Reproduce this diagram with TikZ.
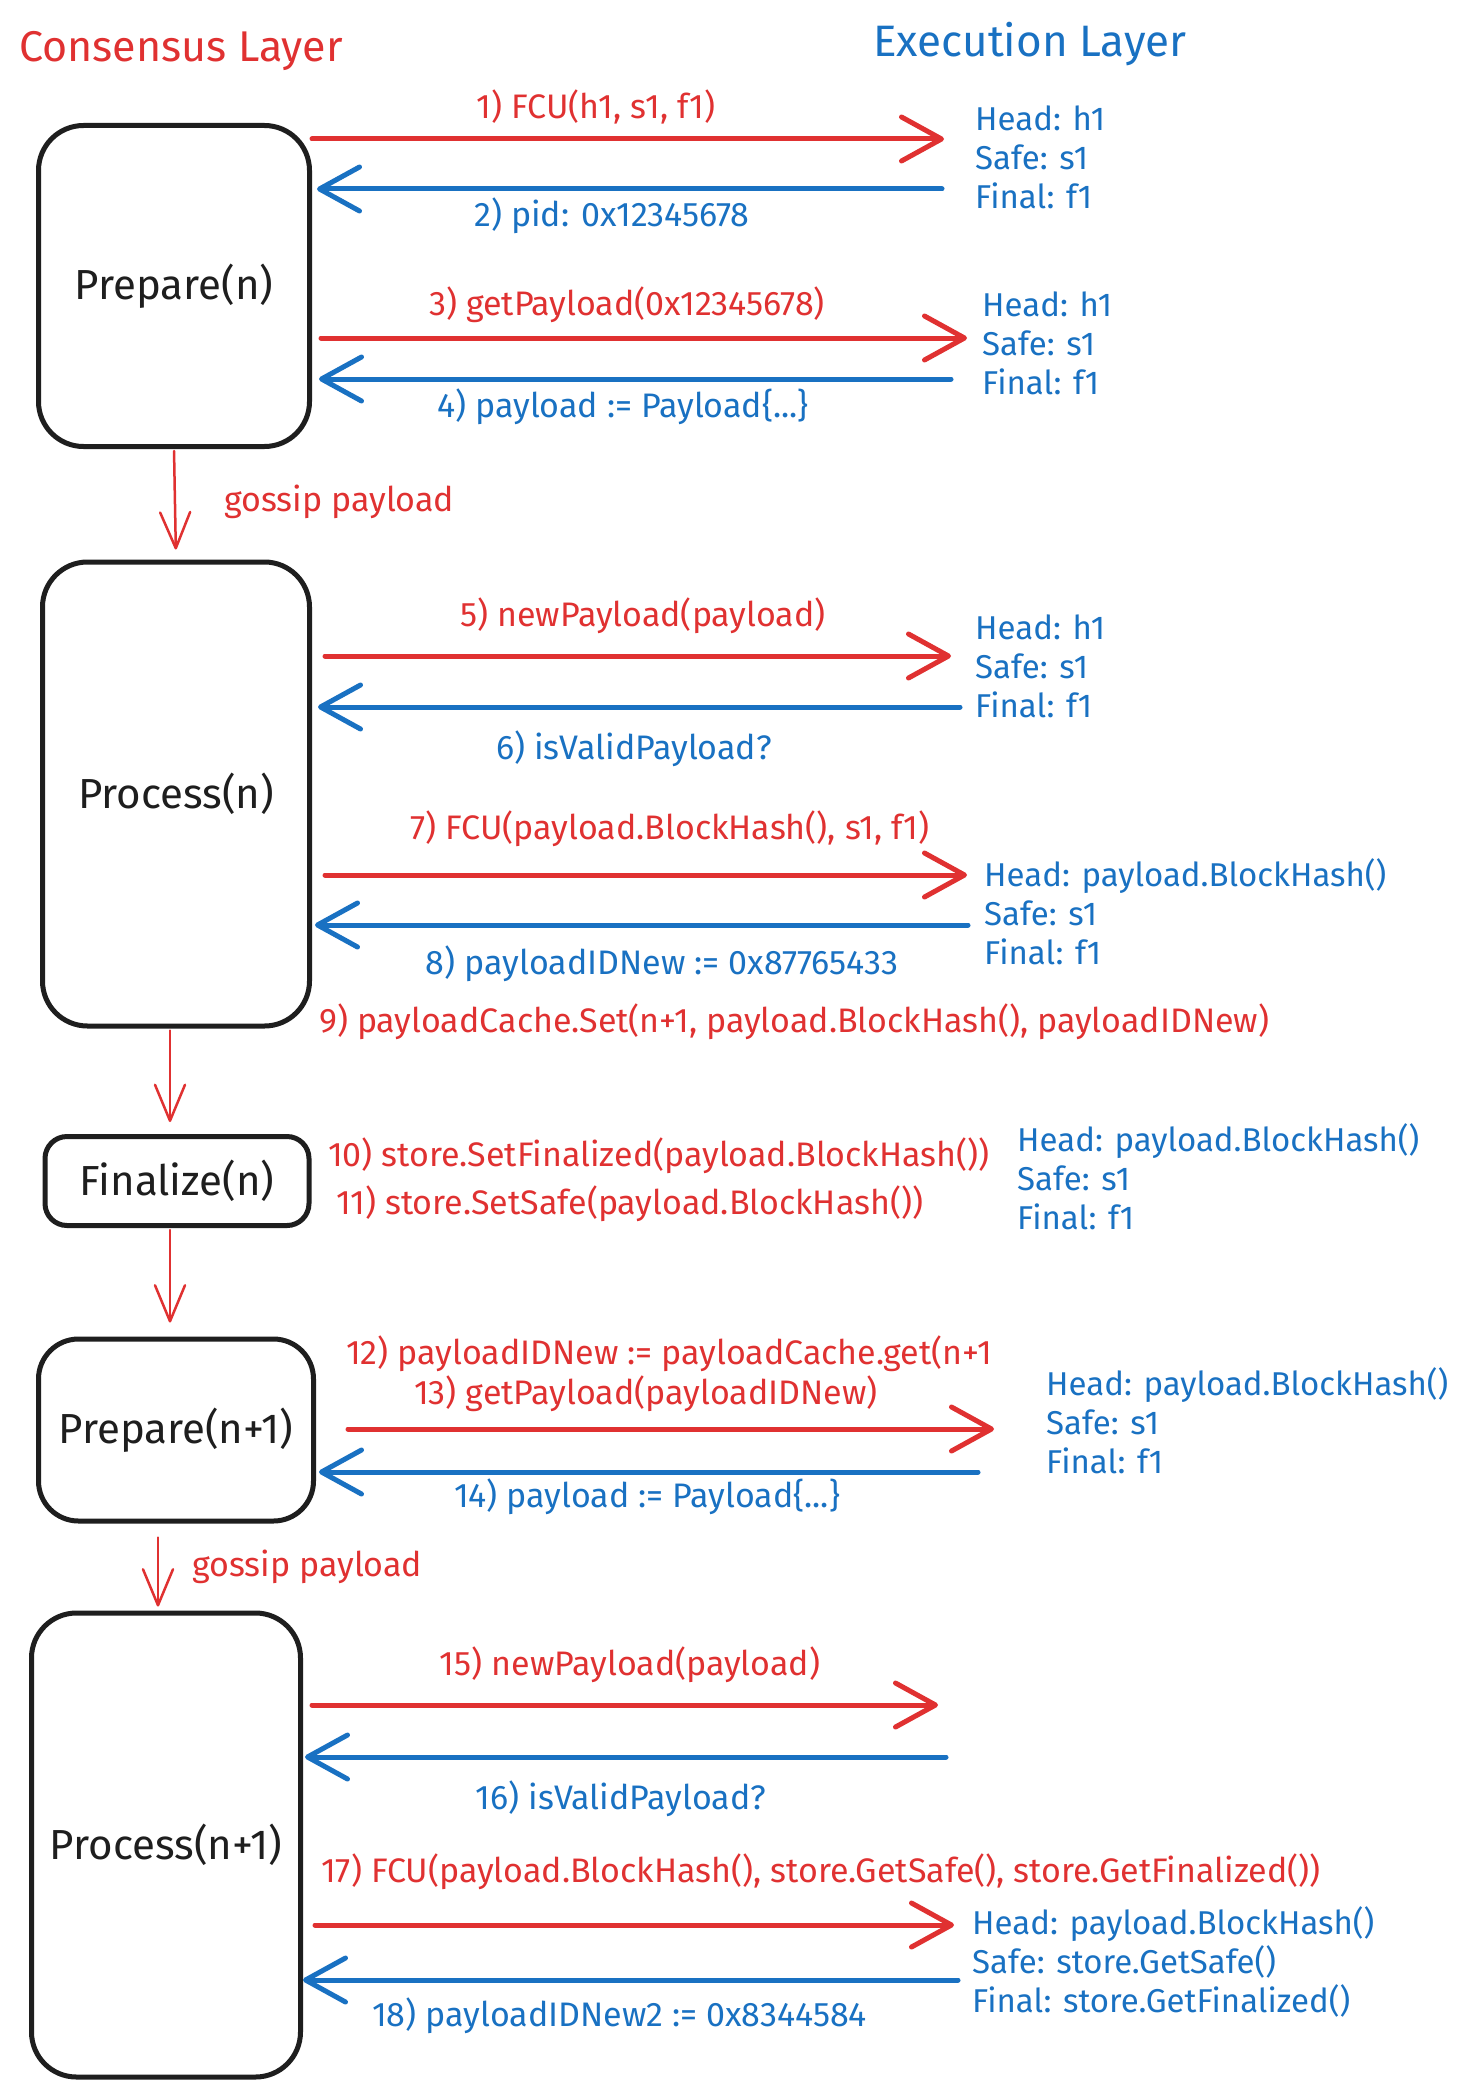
\documentclass[tikz,border=0pt]{standalone}
\usepackage{fontspec}
\setmainfont{Fira Sans}
\usetikzlibrary{arrows.meta,positioning}
\definecolor{clred}{HTML}{E03131}
\definecolor{elblue}{HTML}{1971C2}
\definecolor{ink}{HTML}{1E1E1E}

\begin{document}
\begin{tikzpicture}[x=1pt, y=-1pt,
    stage/.style={draw=ink, line width=5pt, rounded corners=45pt, font=\fontsize{42}{48}\selectfont, text=ink},
    call/.style={draw=clred, line width=5pt, line cap=round, -{Straight Barb[length=40pt, width=44pt, round]}},
    reply/.style={draw=elblue, line width=5pt, line cap=round, -{Straight Barb[length=40pt, width=44pt, round]}},
    flow/.style={draw=clred, line width=2.5pt, line cap=round, -{Straight Barb[length=36pt, width=30pt, round]}},
    redtxt/.style={text=clred, font=\fontsize{34}{40}\selectfont, inner sep=0pt},
    bluetxt/.style={text=elblue, font=\fontsize{34}{40}\selectfont, inner sep=0pt},
    state/.style={bluetxt, align=left, anchor=west, font=\fontsize{33}{39}\selectfont}]

    \path[fill=white, use as bounding box] (0,0) rectangle (1468,2100);

    \node[redtxt, font=\fontsize{43}{50}\selectfont] (cl) at (181,51) {Consensus Layer};
    \node[bluetxt, font=\fontsize{44}{50}\selectfont] (el) at (1030,44) {Execution Layer};

    \node[stage, minimum width=271pt, minimum height=321pt] (prep) at (174,286) {Prepare(n)};
    \node[stage, minimum width=267pt, minimum height=464pt] (proc) at (176,794) {Process(n)};
    \node[stage, minimum width=264pt, minimum height=89pt, rounded corners=22pt] (fin) at (177,1181) {Finalize(n)};
    \node[stage, minimum width=275pt, minimum height=182pt, rounded corners=40pt] (prepb) at (176,1430) {Prepare(n+1)};
    \node[stage, minimum width=269pt, minimum height=464pt] (procb) at (166,1845) {Process(n+1)};

    \coordinate (e1) at (944,139);
    \coordinate (e2) at (942,189);
    \coordinate (e3) at (967,338);
    \coordinate (e4) at (951,379);
    \coordinate (e5) at (951,656);
    \coordinate (e6) at (960,707);
    \coordinate (e7) at (967,875);
    \coordinate (e8) at (968,925);
    \coordinate (e13) at (994,1429);
    \coordinate (e14) at (978,1472);
    \coordinate (e15) at (938,1705);
    \coordinate (e16) at (946,1757);
    \coordinate (e17) at (954,1925);
    \coordinate (e18) at (958,1980);

    \draw[call] (prep.east |- e1) -- (e1);
    \draw[reply] (e2) -- ([xshift=5pt]prep.east |- e2);
    \draw[call] ([xshift=9pt]prep.east |- e3) -- (e3);
    \draw[reply] (e4) -- ([xshift=7pt]prep.east |- e4);

    \draw[call] ([xshift=13pt]proc.east |- e5) -- (e5);
    \draw[reply] (e6) -- ([xshift=6pt]proc.east |- e6);
    \draw[call] ([xshift=13pt]proc.east |- e7) -- (e7);
    \draw[reply] (e8) -- ([xshift=3pt]proc.east |- e8);

    \draw[call] ([xshift=32pt]prepb.east |- e13) -- (e13);
    \draw[reply] (e14) -- ([xshift=3pt]prepb.east |- e14);

    \draw[call] ([xshift=9pt]procb.east |- e15) -- (e15);
    \draw[reply] (e16) -- ([xshift=2pt]procb.east |- e16);
    \draw[call] ([xshift=12pt]procb.east |- e17) -- (e17);
    \draw[reply] (e18) -- (procb.east |- e18);

    \draw[flow, shorten <=2pt, shorten >=10pt] (prep.south) -- (proc.north);
    \draw[flow, shorten <=2pt, shorten >=12pt] ([xshift=-6pt]proc.south) -- ([xshift=-6pt]proc.south |- fin.north);
    \draw[flow, shorten <=2pt, shorten >=14pt] ([xshift=-7pt]fin.south) -- ([xshift=-7pt]fin.south |- prepb.north);
    \draw[flow, shorten <=14pt, shorten >=4pt] ([xshift=-18pt]prepb.south) -- ([xshift=-18pt]prepb.south |- procb.north);

    \node[redtxt, anchor=west] (g1) at (224,502) {gossip payload};
    \node[redtxt, anchor=west] (g2) at (192,1567) {gossip payload};

    \node[redtxt] (l1) at (596,107) {1) FCU(h1, s1, f1)};
    \node[bluetxt] (l2) at (612,216) {2) pid: 0x12345678};
    \node[redtxt] (l3) at (627,305) {3) getPayload(0x12345678)};
    \node[bluetxt] (l4) at (623,407) {4) payload := Payload\{...\}};
    \node[redtxt] (l5) at (643,616) {5) newPayload(payload)};
    \node[bluetxt] (l6) at (634,749) {6) isValidPayload?};
    \node[redtxt] (l7) at (670,829) {7) FCU(payload.BlockHash(), s1, f1)};
    \node[bluetxt] (l8) at (662,964) {8) payloadIDNew := 0x87765433};
    \node[redtxt, anchor=west] (l9) at (319,1022) {9) payloadCache.Set(n+1, payload.BlockHash(), payloadIDNew)};
    \node[redtxt, anchor=west] (l10) at (328,1156) {10) store.SetFinalized(payload.BlockHash())};
    \node[redtxt, anchor=west] (l11) at (336,1204) {11) store.SetSafe(payload.BlockHash())};
    \node[redtxt, anchor=west] (l12) at (346,1354) {12) payloadIDNew := payloadCache.get(n+1};
    \node[redtxt, anchor=west] (l13) at (414,1394) {13) getPayload(payloadIDNew)};
    \node[bluetxt] (l14) at (647,1497) {14) payload := Payload\{...\}};
    \node[redtxt] (l15) at (630,1665) {15) newPayload(payload)};
    \node[bluetxt] (l16) at (621,1799) {16) isValidPayload?};
    \node[redtxt, anchor=west] (l17) at (321,1872) {17) FCU(payload.BlockHash(), store.GetSafe(), store.GetFinalized())};
    \node[bluetxt, anchor=west] (l18) at (372,2016) {18) payloadIDNew2 := 0x8344584};

    \node[state] (s1) at (975,157) {Head: h1\\Safe: s1\\Final: f1};
    \node[state] (s2) at (982,343) {Head: h1\\Safe: s1\\Final: f1};
    \node[state] (s3) at (975,666) {Head: h1\\Safe: s1\\Final: f1};
    \node[state] (s4) at (984,912) {Head: payload.BlockHash()\\Safe: s1\\Final: f1};
    \node[state] (s5) at (1017,1177) {Head: payload.BlockHash()\\Safe: s1\\Final: f1};
    \node[state] (s6) at (1046,1421) {Head: payload.BlockHash()\\Safe: s1\\Final: f1};
    \node[state] (s7) at (972,1962) {Head: payload.BlockHash()\\Safe: store.GetSafe()\\Final: store.GetFinalized()};

\end{tikzpicture}
\end{document}
